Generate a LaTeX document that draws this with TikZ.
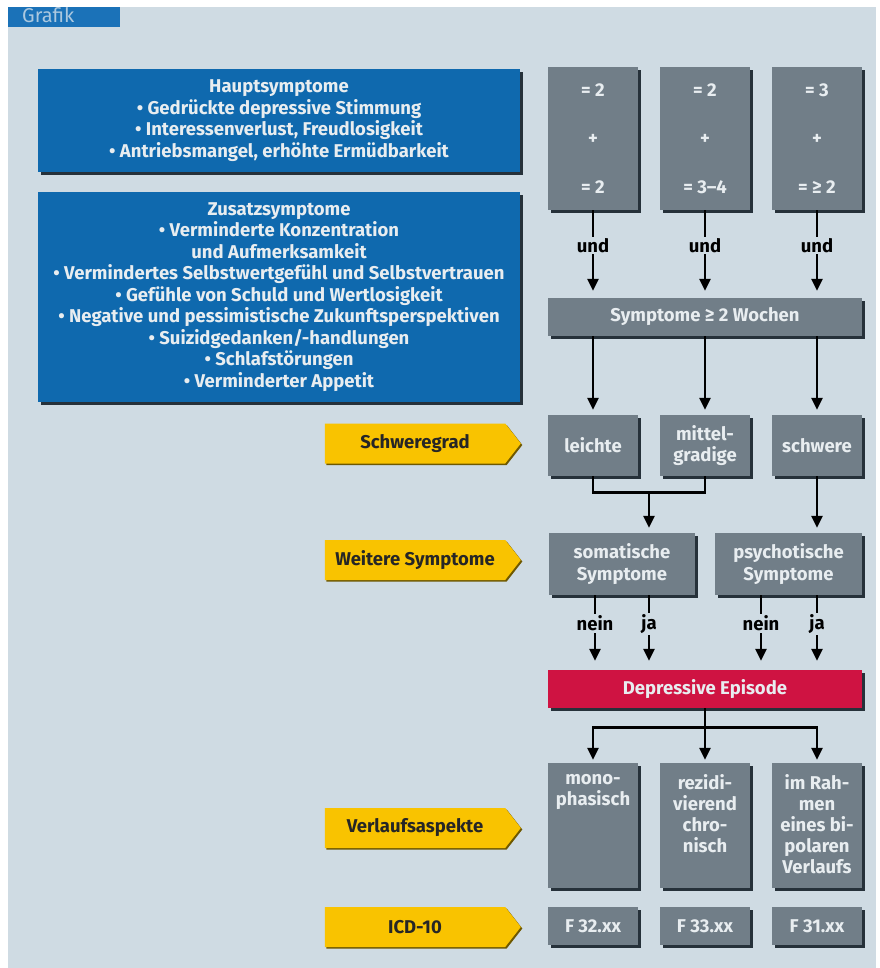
\documentclass[tikz,border=0pt]{standalone}
\usepackage{fontspec}
\setmainfont{Fira Sans}
\usetikzlibrary{arrows.meta,shapes.symbols,shadows,calc}

\definecolor{bgc}{HTML}{CFDBE3}
\definecolor{blauc}{HTML}{0F69AE}
\definecolor{tabc}{HTML}{1B72B8}
\definecolor{grauc}{HTML}{717E88}
\definecolor{schattenc}{HTML}{26313A}
\definecolor{rotc}{HTML}{CF1342}
\definecolor{gelbc}{HTML}{F9C300}
\definecolor{gelbschatten}{HTML}{6E5800}
\definecolor{hellc}{HTML}{E8EDF0}

\tikzset{
  box/.style={rectangle, inner sep=0pt, align=center, text=hellc,
    font=\bfseries\fontsize{18.5}{21.5}\selectfont,
    drop shadow={shadow xshift=3pt, shadow yshift=-3pt, opacity=1, fill=schattenc}},
  bluebox/.style={box, fill=blauc, minimum width=482pt},
  greybox/.style={box, fill=grauc, minimum width=90pt},
  widebox/.style={box, minimum width=314pt, minimum height=38pt},
  tag/.style={signal, signal to=east, signal pointer angle=104, fill=gelbc,
    minimum width=196pt, minimum height=40pt, inner sep=0pt,
    font=\bfseries\fontsize{18.5}{21}\selectfont, text=black!85,
    drop shadow={shadow xshift=1.5pt, shadow yshift=-1.5pt, opacity=1, fill=gelbschatten}},
  arr/.style={line width=2.8pt, -{Triangle[length=12pt,width=11pt]}},
  conn/.style={line width=2.8pt},
  lbl/.style={fill=bgc, inner sep=1.5pt, font=\bfseries\fontsize{18.5}{21}\selectfont}
}

\begin{document}
\begin{tikzpicture}[x=1pt,y=-1pt]
  \useasboundingbox (0,0) rectangle (879,968);
  \fill[bgc] (8,7) rectangle (876,968);
  \fill[tabc] (8,7) rectangle (120,27);
  \node[anchor=west, text=hellc!70!tabc, font=\fontsize{20}{22}\selectfont, inner sep=0pt] (tab) at (22,15.5) {Grafik};

  % Symptome
  \node[bluebox, minimum height=103pt] (haupt) at (279,120.5)
    {Hauptsymptome\\ \textbullet\ Gedrückte depressive Stimmung\\
     \textbullet\ Interessenverlust, Freudlosigkeit\\
     \textbullet\ Antriebsmangel, erhöhte Ermüdbarkeit};
  \node[bluebox, minimum height=210pt] (zusatz) at (279,297)
    {Zusatzsymptome\\ \textbullet\ Verminderte Konzentration\\ und Aufmerksamkeit\\
     \textbullet\ Vermindertes Selbstwertgefühl und Selbstvertrauen\\
     \textbullet\ Gefühle von Schuld und Wertlosigkeit\\
     \textbullet\ Negative und pessimistische Zukunftsperspektiven\\
     \textbullet\ Suizidgedanken/-handlungen\\
     \textbullet\ Schlafstörungen\\
     \textbullet\ Verminderter Appetit};

  \node[greybox, minimum height=143pt] (leicht) at (593,138.5) {= 2\\[27pt]+\\[27pt]= 2};
  \node[greybox, minimum height=143pt] (mittel) at (705,138.5) {= 2\\[27pt]+\\[27pt]= 3–4};
  \node[greybox, minimum height=143pt] (schwer) at (817,138.5) {= 3\\[27pt]+\\[27pt]= ≥ 2};
  \node[widebox, fill=grauc] (wochen) at (705,317) {Symptome ≥ 2 Wochen};

  % Schweregrad
  \node[greybox, minimum height=61pt] (le) at (593,445.5) {leichte};
  \node[greybox, minimum height=61pt] (mi) at (705,445.5) {mittel-\\gradige};
  \node[greybox, minimum height=61pt] (sc) at (817,445.5) {schwere};
  \node[greybox, minimum width=146pt, minimum height=62pt] (som) at (622,564) {somatische\\Symptome};
  \node[greybox, minimum width=147pt, minimum height=62pt] (psy) at (788.5,564) {psychotische\\Symptome};
  \node[widebox, fill=rotc] (epi) at (705,689) {Depressive Episode};

  % Verlauf
  \node[greybox, minimum height=125pt] (mono) at (593,825.5)
    {\parbox[c][117pt][t]{88pt}{\vspace*{7pt}\centering\fontsize{18.5}{21}\selectfont mono-\\phasisch}};
  \node[greybox, minimum height=125pt] (rezi) at (705,825.5)
    {\parbox[c][117pt][t]{88pt}{\vspace*{7pt}\centering\fontsize{18.5}{21}\selectfont rezidi-\\vierend\\chro-\\nisch}};
  \node[greybox, minimum height=125pt] (bipo) at (817,825.5)
    {\parbox[c][117pt][t]{88pt}{\vspace*{7pt}\centering\fontsize{18.5}{21}\selectfont im Rah-\\men\\eines bi-\\polaren\\Verlaufs}};
  \node[greybox, minimum height=38pt] (f32) at (593,926) {F 32.xx};
  \node[greybox, minimum height=38pt] (f33) at (705,926) {F 33.xx};
  \node[greybox, minimum height=38pt] (f31) at (817,926) {F 31.xx};

  \node[tag] (grad) at (415,443.5) {Schweregrad\hspace{16pt}};
  \node[tag] (weit) at (415,560) {Weitere Symptome\hspace{16pt}};
  \node[tag] (verl) at (415,828) {Verlaufsaspekte\hspace{16pt}};
  \node[tag] (icd) at (415,927) {ICD-10\hspace{16pt}};

  % Pfeile
  \foreach \n in {leicht,mittel,schwer}
    \draw[arr, shorten >=7pt] (\n.south) -- node[lbl, pos=0.4] {und} (\n.south |- wochen.north);
  \foreach \n in {le,mi,sc}
    \draw[arr, shorten >=5pt] (\n.south |- wochen.south) -- (\n.north);
  \draw[conn] (le.south) -- ++(0,16) -| (mi.south);
  \coordinate (lm) at ($(le.south)!0.5!(mi.south) + (0,16)$);
  \draw[arr, shorten >=5pt] (lm) -- (lm |- som.north);
  \draw[arr, shorten >=5pt] (sc.south) -- (sc.south |- psy.north);

  \draw[arr, shorten >=9pt] (som.south -| 595,0) -- node[lbl, pos=0.38] {nein} (epi.north -| 595,0);
  \draw[arr, shorten >=9pt] (som.south -| lm) -- node[lbl, pos=0.38] {ja} (epi.north -| lm);
  \draw[arr, shorten >=9pt] (psy.south -| 761,0) -- node[lbl, pos=0.38] {nein} (epi.north -| 761,0);
  \draw[arr, shorten >=9pt] (psy.south -| sc) -- node[lbl, pos=0.38] {ja} (epi.north -| sc);

  \coordinate (ver) at ($(epi.south) + (0,19)$);
  \draw[conn] (epi.south) -- (ver);
  \draw[arr, shorten >=3pt] (ver) -| (mono.north);
  \draw[arr, shorten >=3pt] (ver) -| (bipo.north);
  \draw[arr, shorten >=3pt] (ver) -- (rezi.north);
\end{tikzpicture}
\end{document}
